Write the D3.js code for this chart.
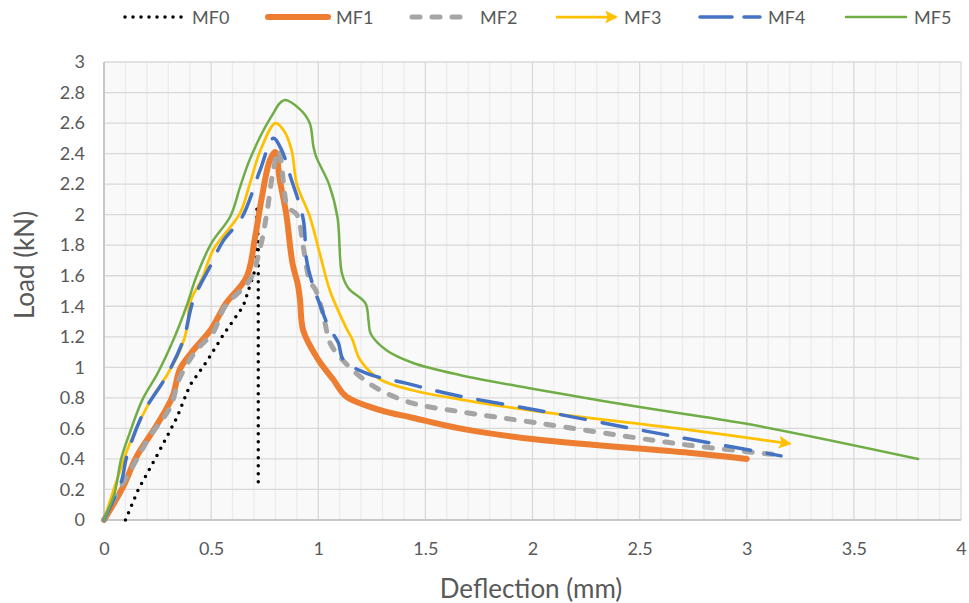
<!DOCTYPE html>
<html>
<head>
<meta charset="utf-8">
<script src="https://cdn.jsdelivr.net/npm/d3@7/dist/d3.min.js"></script>
<style>
  html, body { margin: 0; padding: 0; background: #fff; }
  svg { display: block; }
  text { font-family: Lato, "Open Sans", sans-serif; fill: #595959; }
</style>
</head>
<body>
<svg id="chart" width="969" height="603"></svg>
<script>
// ---- data (deflection mm, load kN) ----
const seriesNames = ["MF0", "MF1", "MF2", "MF3", "MF4", "MF5"];
const xTicks = [0, 0.5, 1, 1.5, 2, 2.5, 3, 3.5, 4];
const yTicks = [0, 0.2, 0.4, 0.6, 0.8, 1, 1.2, 1.4, 1.6, 1.8, 2, 2.2, 2.4, 2.6, 2.8, 3];

const mf0 = [[0.1,0],[0.16,0.2],[0.25,0.43],[0.34,0.67],[0.4,0.88],[0.48,1.04],[0.56,1.22],[0.65,1.4],[0.68,1.53],[0.71,1.66],[0.714,2.06],[0.72,1.8],[0.72,0.2]];
const mf1 = [[0,0],[0.09,0.22],[0.15,0.41],[0.25,0.63],[0.32,0.81],[0.355,0.99],[0.41,1.1],[0.5,1.25],[0.57,1.42],[0.665,1.59],[0.705,1.85],[0.735,2.1],[0.775,2.36],[0.8,2.41],[0.82,2.23],[0.85,2.01],[0.88,1.68],[0.905,1.54],[0.915,1.44],[0.93,1.24],[1.0,1.05],[1.07,0.92],[1.13,0.81],[1.29,0.72],[1.44,0.67],[1.66,0.6],[2.03,0.525],[2.73,0.44],[3.0,0.4]];
const mf2 = [[0,0],[0.044,0.13],[0.15,0.39],[0.215,0.55],[0.31,0.74],[0.35,0.92],[0.43,1.11],[0.51,1.23],[0.565,1.4],[0.68,1.57],[0.73,1.79],[0.76,2.01],[0.79,2.29],[0.815,2.42],[0.845,2.12],[0.855,2.05],[0.9,2.0],[0.93,1.79],[0.96,1.57],[0.99,1.5],[1.015,1.39],[1.03,1.3],[1.055,1.16],[1.1,1.07],[1.195,0.94],[1.29,0.85],[1.44,0.765],[1.66,0.71],[2.035,0.633],[2.5,0.535],[2.73,0.49],[3.12,0.43]];
const mf3 = [[0,0],[0.06,0.26],[0.12,0.5],[0.22,0.79],[0.29,0.94],[0.355,1.11],[0.39,1.27],[0.4,1.42],[0.46,1.59],[0.51,1.77],[0.635,2.01],[0.68,2.2],[0.73,2.42],[0.8,2.6],[0.84,2.55],[0.876,2.42],[0.9,2.2],[0.96,1.99],[1.01,1.73],[1.055,1.5],[1.13,1.26],[1.16,1.18],[1.195,1.05],[1.29,0.92],[1.44,0.85],[1.66,0.79],[2.03,0.71],[2.73,0.59],[3.2,0.5]];
const mf4 = [[0,0],[0.04,0.12],[0.083,0.26],[0.106,0.415],[0.183,0.7],[0.29,0.94],[0.37,1.18],[0.417,1.44],[0.495,1.66],[0.557,1.83],[0.643,1.98],[0.728,2.29],[0.79,2.5],[0.83,2.42],[0.87,2.25],[0.93,1.97],[0.946,1.7],[0.977,1.53],[1.0,1.44],[1.047,1.27],[1.094,1.16],[1.117,1.05],[1.226,0.96],[1.413,0.895],[1.63,0.82],[2.035,0.716],[2.5,0.59],[2.73,0.53],[3.16,0.42]];
const mf5 = [[0,0],[0.05,0.18],[0.08,0.4],[0.12,0.57],[0.18,0.79],[0.25,0.96],[0.33,1.2],[0.39,1.42],[0.43,1.59],[0.5,1.81],[0.59,1.99],[0.635,2.18],[0.68,2.36],[0.78,2.64],[0.84,2.75],[0.915,2.69],[0.96,2.6],[0.977,2.45],[0.99,2.38],[1.05,2.2],[1.09,1.98],[1.11,1.62],[1.14,1.52],[1.22,1.42],[1.235,1.3],[1.245,1.22],[1.32,1.11],[1.44,1.03],[1.66,0.95],[2.0,0.86],[2.5,0.74],[3.0,0.63],[3.8,0.4]];
const seriesData = [mf0, mf1, mf2, mf3, mf4, mf5];

// ---- styles ----
const styles = [
  {color: "#000000", width: 3.5, dash: "0 8", cap: "round", curve: d3.curveLinear},
  {color: "#ED7D31", width: 6, dash: null, cap: "round", curve: d3.curveCatmullRom.alpha(0.5)},
  {color: "#A5A5A5", width: 5, dash: "8 12", cap: "round", curve: d3.curveCatmullRom.alpha(0.5)},
  {color: "#FFC000", width: 2.75, dash: null, cap: "butt", curve: d3.curveCatmullRom.alpha(0.5), arrow: true},
  {color: "#4472C4", width: 3.5, dash: "25 17", cap: "round", curve: d3.curveCatmullRom.alpha(0.5)},
  {color: "#70AD47", width: 2.5, dash: null, cap: "round", curve: d3.curveCatmullRom.alpha(0.5)}
];

const svg = d3.select("#chart");
const plot = {left: 104, right: 961, top: 62, bottom: 520};
const x = d3.scaleLinear().domain([0, 4]).range([plot.left, plot.right]);
const y = d3.scaleLinear().domain([0, 3]).range([plot.bottom, plot.top]);

svg.append("rect").attr("x", plot.left).attr("y", plot.top)
  .attr("width", plot.right - plot.left).attr("height", plot.bottom - plot.top)
  .attr("fill", "#f9f9f9");

// minor vertical grid (0.1)
const minorX = d3.range(0, 41).map(i => i / 10).filter((v, i) => i % 5 !== 0);
svg.append("g").selectAll("line").data(minorX).join("line")
  .attr("x1", d => x(d)).attr("x2", d => x(d))
  .attr("y1", plot.top).attr("y2", plot.bottom)
  .attr("stroke", "#ececec").attr("stroke-width", 1.3);

// major grid
svg.append("g").selectAll("line").data(yTicks).join("line")
  .attr("x1", plot.left).attr("x2", plot.right)
  .attr("y1", d => y(d)).attr("y2", d => y(d))
  .attr("stroke", "#d9d9d9").attr("stroke-width", 1.3);
svg.append("g").selectAll("line").data(xTicks).join("line")
  .attr("x1", d => x(d)).attr("x2", d => x(d))
  .attr("y1", plot.top).attr("y2", plot.bottom)
  .attr("stroke", "#d9d9d9").attr("stroke-width", 1.3);

// axis lines
svg.append("line").attr("x1", plot.left).attr("x2", plot.left)
  .attr("y1", plot.top).attr("y2", plot.bottom).attr("stroke", "#bfbfbf").attr("stroke-width", 1.5);
svg.append("line").attr("x1", plot.left).attr("x2", plot.right)
  .attr("y1", plot.bottom).attr("y2", plot.bottom).attr("stroke", "#bfbfbf").attr("stroke-width", 1.5);

// axes labels via d3 axes
const xAxis = svg.append("g").attr("transform", `translate(0,${plot.bottom})`)
  .call(d3.axisBottom(x).tickValues(xTicks).tickSize(0).tickPadding(22).tickFormat(d => String(d)));
const yAxis = svg.append("g").attr("transform", `translate(${plot.left},0)`)
  .call(d3.axisLeft(y).tickValues(yTicks).tickSize(0).tickPadding(19).tickFormat(d => String(+d.toFixed(1))));
[xAxis, yAxis].forEach(g => {
  g.select(".domain").remove();
  g.selectAll("text").attr("font-size", 18).attr("fill", "#595959")
    .attr("font-family", "Lato, 'Open Sans', sans-serif");
});

// arrow marker
const defs = svg.append("defs");
defs.append("marker").attr("id", "arrow").attr("markerUnits", "userSpaceOnUse")
  .attr("viewBox", "0 0 12 12").attr("refX", 10).attr("refY", 6)
  .attr("markerWidth", 13).attr("markerHeight", 13).attr("orient", "auto")
  .append("path").attr("d", "M0,0 L12,6 L0,12 L2.5,6 Z").attr("fill", "#FFC000");

// series lines
seriesData.forEach((data, i) => {
  const s = styles[i];
  const line = d3.line().x(d => x(d[0])).y(d => y(d[1])).curve(s.curve);
  const p = svg.append("path").datum(data)
    .attr("d", line)
    .attr("fill", "none")
    .attr("stroke", s.color)
    .attr("stroke-width", s.width)
    .attr("stroke-linecap", s.cap)
    .attr("stroke-linejoin", "round");
  if (s.dash) p.attr("stroke-dasharray", s.dash);
  if (s.arrow) p.attr("marker-end", "url(#arrow)");
});

// axis titles
svg.append("text").attr("x", 531).attr("y", 598).attr("text-anchor", "middle")
  .attr("font-size", 26).text("Deflection (mm)");
svg.append("text").attr("transform", "translate(34,265) rotate(-90)").attr("text-anchor", "middle")
  .attr("font-size", 26).text("Load (kN)");

// legend
const legendX = [124, 268, 412, 556, 700, 846];
const lg = svg.append("g");
seriesNames.forEach((name, i) => {
  const s = styles[i];
  const x0 = legendX[i], x1 = x0 + 60, ly = 17;
  const l = lg.append("line").attr("x1", x0 + (i === 0 ? 1 : 0)).attr("x2", x1)
    .attr("y1", ly).attr("y2", ly)
    .attr("stroke", s.color).attr("stroke-width", s.width)
    .attr("stroke-linecap", s.cap);
  if (s.dash) l.attr("stroke-dasharray", i === 4 ? "32 12" : s.dash);
  if (s.arrow) l.attr("marker-end", "url(#arrow)");
  lg.append("text").attr("x", x1 + 8).attr("y", ly + 6.5).attr("font-size", 18).text(name);
});
</script>
</body>
</html>
